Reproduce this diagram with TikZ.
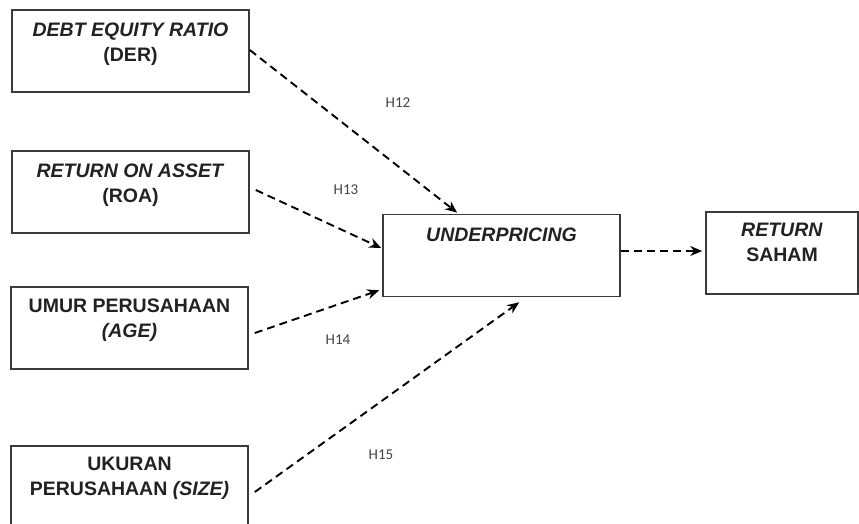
\documentclass[tikz,border=0pt]{standalone}
\usepackage{fontspec}
\setmainfont{Liberation Sans}
\newfontfamily\labelfont{Carlito}
\usetikzlibrary{arrows.meta,calc}
\definecolor{ink}{HTML}{222222}
\definecolor{edge}{HTML}{3A3A3A}
\begin{document}
\begin{tikzpicture}[x=1pt,y=-1pt,
  box/.style={draw=edge,line width=1.6pt,rectangle,inner sep=0pt,minimum width=#1,minimum height=82pt},
  box/.default=237pt,
  boxtext/.style={anchor=north,align=center,text=ink,font=\bfseries\fontsize{19.5}{25}\selectfont,inner sep=0pt},
  hyp/.style={text=ink!85,font=\labelfont\fontsize{15}{18}\selectfont,inner sep=0pt},
  link/.style={draw=black,line width=1.9pt,dash pattern=on 8pt off 5pt,-{Stealth[length=12pt,width=10pt]}}]
\useasboundingbox (0,0) rectangle (859,524);
\clip (0,0) rectangle (859,524);
\fill[white] (0,0) rectangle (859,524);
% boxes
\node[box] (der) at (130.5,51) {};
\node[box] (roa) at (130.5,192) {};
\node[box] (age) at (129.5,328) {};
\node[box,minimum height=90pt] (size) at (129.5,491) {};
\node[box] (up) at (501.5,255.5) {};
\node[box=152pt,minimum height=82pt] (rs) at (782,253) {};
% texts
\node[boxtext] (derT) at ([yshift=-13pt]der.north) {\textit{DEBT EQUITY RATIO}\\(DER)};
\node[boxtext] (roaT) at ([yshift=-13pt]roa.north) {\textit{RETURN ON ASSET}\\(ROA)};
\node[boxtext] (ageT) at ([yshift=-12pt]age.north) {UMUR PERUSAHAAN\\\textit{(AGE)}};
\node[boxtext] (sizeT) at ([yshift=-12pt]size.north) {UKURAN\\PERUSAHAAN \textit{(SIZE)}};
\node[boxtext] (upT) at ([yshift=-14pt]up.north) {\textit{UNDERPRICING}};
\node[boxtext] (rsT) at ([yshift=-12pt]rs.north) {\textit{RETURN}\\SAHAM};
% hypothesis labels
\node[hyp] (h12) at (398,103) {H12};
\node[hyp] (h13) at (346,190) {H13};
\node[hyp] (h14) at (338,340) {H14};
\node[hyp] (h15) at (381,455) {H15};
% connectors
\draw[link] ([yshift=1pt]der.east) -- ([xshift=75pt,yshift=1pt]up.north west);
\draw[link] ([xshift=6pt,yshift=2pt]roa.east) -- ([xshift=-1pt,yshift=7.5pt]up.west);
\draw[link] ([xshift=6pt,yshift=-5pt]age.east) -- ([xshift=-3pt,yshift=7pt]up.south west);
\draw[link] ([xshift=6pt,yshift=-1pt]size.east) -- ([xshift=137pt,yshift=-5pt]up.south west);
\draw[link] ([yshift=4.5pt]up.east) -- ([xshift=-3pt,yshift=2pt]rs.west);
\end{tikzpicture}
\end{document}
